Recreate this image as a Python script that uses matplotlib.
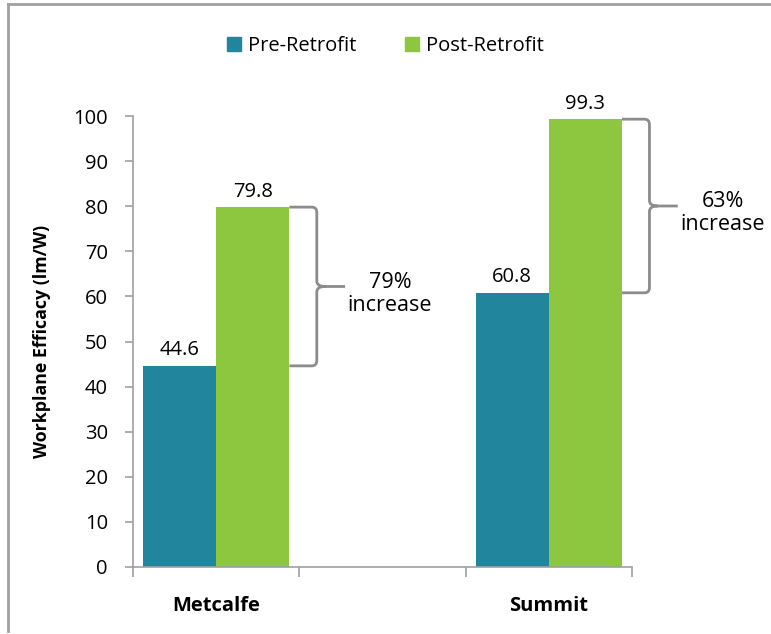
import matplotlib.pyplot as plt
from matplotlib.path import Path
from matplotlib.patches import PathPatch, Patch
from matplotlib.lines import Line2D

# data
sites = ['Metcalfe', '', 'Summit']
pre = [44.6, None, 60.8]
post = [79.8, None, 99.3]
increase = ['79%\nincrease', None, '63%\nincrease']
series_names = ['Pre-Retrofit', 'Post-Retrofit']
yticks = [0, 10, 20, 30, 40, 50, 60, 70, 80, 90, 100]

c_pre = '#21869D'
c_post = '#8DC63F'
c_axis = '#A0A0A0'
c_brace = '#8C8C8C'

plt.rcParams['font.family'] = ['Open Sans', 'DejaVu Sans']

fig = plt.figure(figsize=(7.71, 6.34), dpi=100)
ax = fig.add_axes([0.1725, 0.1057, 0.6472, 0.7113])

w = 0.44
for i in range(len(sites)):
    if pre[i] is None:
        continue
    ax.bar(i - w / 2, pre[i], w, color=c_pre)
    ax.bar(i + w / 2, post[i], w, color=c_post)
    ax.annotate('%.1f' % pre[i], (i - w / 2, pre[i]), xytext=(0, 4), textcoords='offset points',
                ha='center', va='bottom', fontsize=14.5)
    ax.annotate('%.1f' % post[i], (i + w / 2, post[i]), xytext=(0, 4), textcoords='offset points',
                ha='center', va='bottom', fontsize=14.5)

    # curly brace between the two bar tops
    x0 = i + w
    yt, yb = post[i], pre[i]
    ym = (yt + yb) / 2
    xs = x0 + 0.165
    r = 1.2
    verts = [(x0, yt), (xs - 0.03, yt), (xs, yt), (xs, yt - r),
             (xs, ym + r), (xs, ym), (xs + 0.05, ym), (xs + 0.17, ym),
             (xs + 0.05, ym), (xs, ym), (xs, ym - r),
             (xs, yb + r), (xs, yb), (xs - 0.03, yb), (x0, yb)]
    codes = [Path.MOVETO, Path.LINETO, Path.CURVE3, Path.CURVE3,
             Path.LINETO, Path.CURVE3, Path.CURVE3, Path.LINETO,
             Path.MOVETO, Path.CURVE3, Path.CURVE3,
             Path.LINETO, Path.CURVE3, Path.CURVE3, Path.LINETO]
    ax.add_patch(PathPatch(Path(verts, codes), fill=False, edgecolor=c_brace, lw=2, clip_on=False))
    ax.text(xs + 0.44, ym - 1.6, increase[i], ha='center', va='center', fontsize=15.5,
            linespacing=1.15, clip_on=False)

ax.set_xlim(-0.5, len(sites) - 0.5)
ax.set_ylim(0, 100)
ax.set_yticks(yticks)
ax.set_xticks([0, 2])
ax.set_xticklabels([sites[0], sites[2]], fontsize=14.5, fontweight='bold')
ax.set_xticks([-0.5, 0.5, 1.5, 2.5], minor=True)
ax.tick_params(axis='x', which='major', length=0, pad=21)
ax.tick_params(axis='x', which='minor', length=7, width=1.2, color=c_axis, direction='out')
ax.tick_params(axis='y', length=6, width=1.2, color=c_axis, labelsize=14.5, pad=12)
ax.set_ylabel('Workplane Efficacy (lm/W)', fontsize=12.8, fontweight='bold', labelpad=16)

for s in ['top', 'right']:
    ax.spines[s].set_visible(False)
for s in ['left', 'bottom']:
    ax.spines[s].set_color(c_axis)
    ax.spines[s].set_linewidth(1.2)

handles = [Patch(color=c_pre), Patch(color=c_post)]
fig.legend(handles, series_names, loc='center', bbox_to_anchor=(0.5, 0.927), ncol=2,
           frameon=False, fontsize=14.5, handlelength=0.7, handleheight=0.7,
           handletextpad=0.35, columnspacing=2.4)

# outer frame (left and top edges only)
fig.add_artist(Line2D([8 / 771, 8 / 771], [1 - 631 / 634, 1 - 4 / 634], color=c_axis, lw=2,
                      transform=fig.transFigure))
fig.add_artist(Line2D([8 / 771, 1], [1 - 4 / 634, 1 - 4 / 634], color=c_axis, lw=2,
                      transform=fig.transFigure))

fig.savefig('out.png', dpi=100)
